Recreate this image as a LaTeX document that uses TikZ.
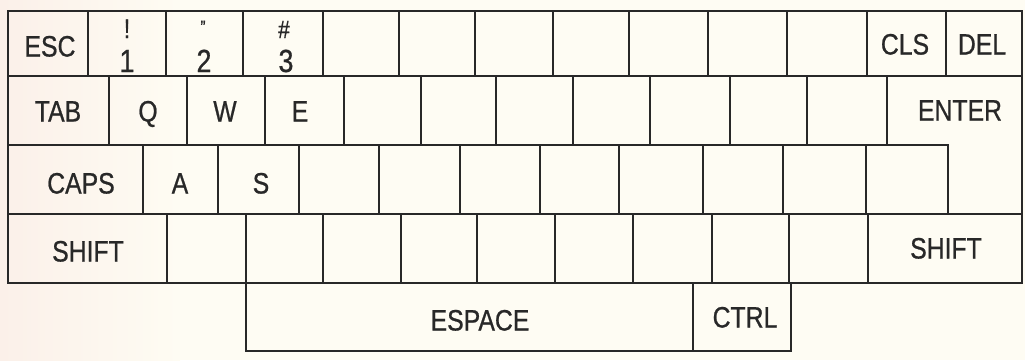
\documentclass[tikz,border=0pt]{standalone}
\usepackage{fontspec}
\setmainfont[FakeStretch=0.84,FakeBold=0.7]{Liberation Sans}
\definecolor{paper}{RGB}{254,252,243}
\definecolor{pinkish}{RGB}{251,240,233}
\definecolor{ink}{RGB}{40,40,40}
\begin{document}
\begin{tikzpicture}[x=1pt,y=-1pt,
  keyline/.style={draw=ink,line width=1.3pt,line join=miter},
  legend/.style={text=ink,inner sep=0pt,font=\fontsize{29.5}{29.5}\selectfont,text height=21pt,text depth=0pt},
  digit/.style={text=ink,inner sep=0pt,font=\fontsize{32}{32}\selectfont,anchor=base},
  symb/.style={text=ink,inner sep=0pt,font=\fontsize{27}{27}\selectfont,anchor=base}]
\useasboundingbox (0,0) rectangle (1025,360);
\fill[paper] (0,0) rectangle (1025,360);
\shade[left color=pinkish,right color=paper] (0,0) rectangle (180,360);
% row 1
\foreach \a/\b in {8/88,88/166,166/243,243/323,323/399,399/475,475/553,553/629,629/708,708/787,787/867,867/946,946/1022}
  \draw[keyline] (\a,11) rectangle (\b,76);
% row 2
\foreach \a/\b in {8/109,109/187,187/265,265/344,344/421,421/496,496/573,573/650,650/730,730/807,807/887}
  \draw[keyline] (\a,76) rectangle (\b,145);
\draw[keyline] (887,76) -- (1022,76) -- (1022,214) -- (948,214) -- (948,145) -- (887,145) -- cycle;
% row 3
\foreach \a/\b in {8/143,143/218,218/299,299/379,379/460,460/540,540/619,619/703,703/783,783/866,866/948}
  \draw[keyline] (\a,145) rectangle (\b,214);
% row 4
\foreach \a/\b in {8/167,167/246,246/323,323/401,401/477,477/555,555/633,633/712,712/789,789/868,868/1022}
  \draw[keyline] (\a,214) rectangle (\b,283);
% row 5
\draw[keyline] (246,283) rectangle (693,351);
\draw[keyline] (693,283) rectangle (791,351);
% legends
\node[legend] (esc) at (50,46) {ESC};
\node[symb] (excl) at (127,38) {!};
\node[digit] (one) at (127,72) {1};
\node[text=ink,inner sep=0pt,font=\fontsize{18}{18}\selectfont] (quot) at (203,27) {"};
\node[digit] (two) at (204,72) {2};
\node[text=ink,inner sep=0pt,font=\fontsize{25}{25}\selectfont,anchor=base] (hash) at (284,38) {\#};
\node[digit] (three) at (286,72) {3};
\node[legend] (cls) at (905,44) {CLS};
\node[legend] (del) at (982,44) {DEL};
\node[legend] (tab) at (58,111) {TAB};
\node[legend] (q) at (148,111) {Q};
\node[legend] (w) at (225,111) {W};
\node[legend] (e) at (300,111) {E};
\node[legend] (enter) at (960,110) {ENTER};
\node[legend] (caps) at (81,183) {CAPS};
\node[legend] (a) at (180,183) {A};
\node[legend] (s) at (261,183) {S};
\node[legend] (shiftl) at (88,251) {SHIFT};
\node[legend] (shiftr) at (946,248) {SHIFT};
\node[legend] (space) at (480,320) {ESPACE};
\node[legend] (ctrl) at (745,317) {CTRL};
\end{tikzpicture}
\end{document}
